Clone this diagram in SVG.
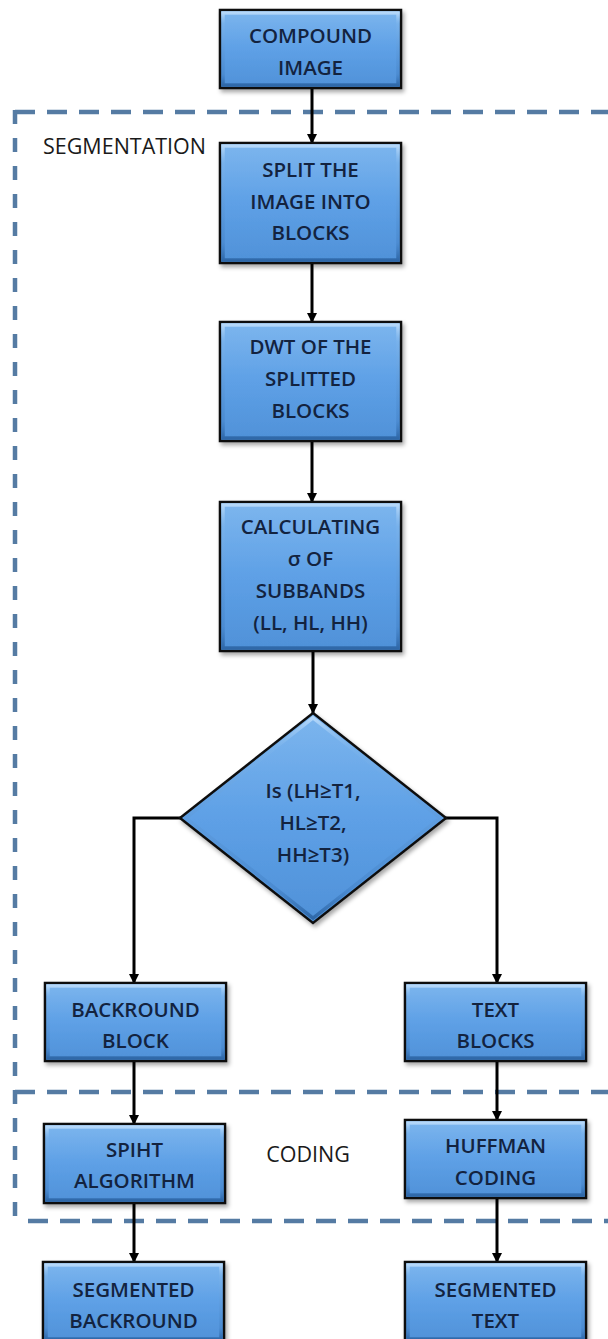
<svg xmlns="http://www.w3.org/2000/svg" width="608" height="1339" viewBox="0 0 608 1339">
  <style>
    .box { fill: url(#fillG); stroke: #111; stroke-width: 2.5; filter: url(#sh); }
    .bev { fill: none; stroke: url(#bevG); stroke-width: 3.5; }
    .t { font-family: 'Open Sans', 'Noto Sans', 'DejaVu Sans', sans-serif; font-size: 20.5px; font-weight: 600; fill: #13233f; text-anchor: middle; }
    .lbl { font-family: 'Open Sans', 'Noto Sans', sans-serif; font-size: 21.5px; fill: #1a1a1a; }
    .dh { stroke: #557ba3; stroke-width: 4.5; stroke-dasharray: 20 12; fill: none; }
    .dv { stroke: #557ba3; stroke-width: 4.5; stroke-dasharray: 14 14; fill: none; }
    .con { stroke: #000; stroke-width: 3; fill: none; }
  </style>
  <defs>
    <linearGradient id="fillG" x1="0" y1="0" x2="0" y2="1">
      <stop offset="0" stop-color="#7db6ee"/>
      <stop offset="0.5" stop-color="#5ea0e6"/>
      <stop offset="1" stop-color="#4f91d8"/>
    </linearGradient>
    <linearGradient id="bevG" x1="0" y1="0" x2="0" y2="1">
      <stop offset="0" stop-color="#b5d8fa"/>
      <stop offset="0.15" stop-color="#7fb6ec" stop-opacity="0.4"/>
      <stop offset="0.85" stop-color="#3d7bc0" stop-opacity="0.4"/>
      <stop offset="1" stop-color="#2f68a8"/>
    </linearGradient>
    <filter id="sh" x="-10%" y="-10%" width="125%" height="130%">
      <feDropShadow dx="2" dy="3" stdDeviation="2" flood-color="#000" flood-opacity="0.35"/>
    </filter>
    <marker id="ah" markerWidth="10" markerHeight="10" refX="9" refY="5" orient="auto" markerUnits="userSpaceOnUse" viewBox="0 0 10 10">
      <path d="M0,0 L10,5 L0,10 z" fill="#000"/>
    </marker>
  </defs>

  <g id="regions">
    <line class="dh" x1="15" y1="112" x2="608" y2="112"/>
    <line class="dv" x1="15" y1="110" x2="15" y2="1223"/>
    <line class="dh" x1="15" y1="1092" x2="608" y2="1092"/>
    <line class="dh" x1="28" y1="1221" x2="608" y2="1221"/>
    <text class="lbl" x="43" y="154">SEGMENTATION</text>
    <text class="lbl" x="308" y="1162" text-anchor="middle">CODING</text>
  </g>

  <g id="connectors">
    <line class="con" x1="312" y1="88" x2="312" y2="143" marker-end="url(#ah)"/>
    <line class="con" x1="312" y1="263" x2="312" y2="322" marker-end="url(#ah)"/>
    <line class="con" x1="312" y1="441" x2="312" y2="502" marker-end="url(#ah)"/>
    <line class="con" x1="313" y1="651" x2="313" y2="713" marker-end="url(#ah)"/>
    <polyline class="con" points="182,818 134,818 134,983" marker-end="url(#ah)"/>
    <polyline class="con" points="444,818 497,818 497,983" marker-end="url(#ah)"/>
    <line class="con" x1="134" y1="1061" x2="134" y2="1124" marker-end="url(#ah)"/>
    <line class="con" x1="497" y1="1061" x2="497" y2="1120" marker-end="url(#ah)"/>
    <line class="con" x1="134" y1="1203" x2="134" y2="1262" marker-end="url(#ah)"/>
    <line class="con" x1="497" y1="1198" x2="497" y2="1262" marker-end="url(#ah)"/>
  </g>

  <g id="compound-image">
    <rect class="box" x="220" y="10" width="181" height="78"/>
    <rect class="bev" x="223" y="13" width="175" height="72"/>
    <text class="t" x="310.5" y="43">COMPOUND</text>
    <text class="t" x="310.5" y="75">IMAGE</text>
  </g>

  <g id="split">
    <rect class="box" x="220" y="143" width="181" height="120"/>
    <rect class="bev" x="223" y="146" width="175" height="114"/>
    <text class="t" x="310.5" y="177">SPLIT THE</text>
    <text class="t" x="310.5" y="208.5">IMAGE INTO</text>
    <text class="t" x="310.5" y="240">BLOCKS</text>
  </g>

  <g id="dwt">
    <rect class="box" x="220" y="322" width="181" height="119"/>
    <rect class="bev" x="223" y="325" width="175" height="113"/>
    <text class="t" x="310.5" y="354">DWT OF THE</text>
    <text class="t" x="310.5" y="386">SPLITTED</text>
    <text class="t" x="310.5" y="418">BLOCKS</text>
  </g>

  <g id="calc">
    <rect class="box" x="220" y="502" width="181" height="149"/>
    <rect class="bev" x="223" y="505" width="175" height="143"/>
    <text class="t" x="310.5" y="534">CALCULATING</text>
    <text class="t" x="310.5" y="566">σ OF</text>
    <text class="t" x="310.5" y="598">SUBBANDS</text>
    <text class="t" x="310.5" y="630">(LL, HL, HH)</text>
  </g>

  <g id="decision">
    <polygon class="box" points="313,713 446,818 313,923 180,818"/>
    <polygon class="bev" points="313,718 440,818 313,918 186,818"/>
    <text class="t" x="313" y="798">Is (LH≥T1,</text>
    <text class="t" x="313" y="830">HL≥T2,</text>
    <text class="t" x="313" y="862">HH≥T3)</text>
  </g>

  <g id="background-block">
    <rect class="box" x="45" y="983" width="181" height="78"/>
    <rect class="bev" x="48" y="986" width="175" height="72"/>
    <text class="t" x="135.5" y="1017">BACKROUND</text>
    <text class="t" x="135.5" y="1048">BLOCK</text>
  </g>

  <g id="text-blocks">
    <rect class="box" x="405" y="983" width="181" height="78"/>
    <rect class="bev" x="408" y="986" width="175" height="72"/>
    <text class="t" x="495.5" y="1017">TEXT</text>
    <text class="t" x="495.5" y="1048">BLOCKS</text>
  </g>

  <g id="spiht">
    <rect class="box" x="44" y="1124" width="181" height="79"/>
    <rect class="bev" x="47" y="1127" width="175" height="73"/>
    <text class="t" x="134.5" y="1157">SPIHT</text>
    <text class="t" x="134.5" y="1188">ALGORITHM</text>
  </g>

  <g id="huffman">
    <rect class="box" x="405" y="1120" width="181" height="78"/>
    <rect class="bev" x="408" y="1123" width="175" height="72"/>
    <text class="t" x="495.5" y="1153">HUFFMAN</text>
    <text class="t" x="495.5" y="1185">CODING</text>
  </g>

  <g id="segmented-background">
    <rect class="box" x="43" y="1262" width="181" height="80"/>
    <rect class="bev" x="46" y="1265" width="175" height="74"/>
    <text class="t" x="133.5" y="1297">SEGMENTED</text>
    <text class="t" x="133.5" y="1328">BACKROUND</text>
  </g>

  <g id="segmented-text">
    <rect class="box" x="405" y="1262" width="181" height="80"/>
    <rect class="bev" x="408" y="1265" width="175" height="74"/>
    <text class="t" x="495.5" y="1297">SEGMENTED</text>
    <text class="t" x="495.5" y="1328">TEXT</text>
  </g>
</svg>
